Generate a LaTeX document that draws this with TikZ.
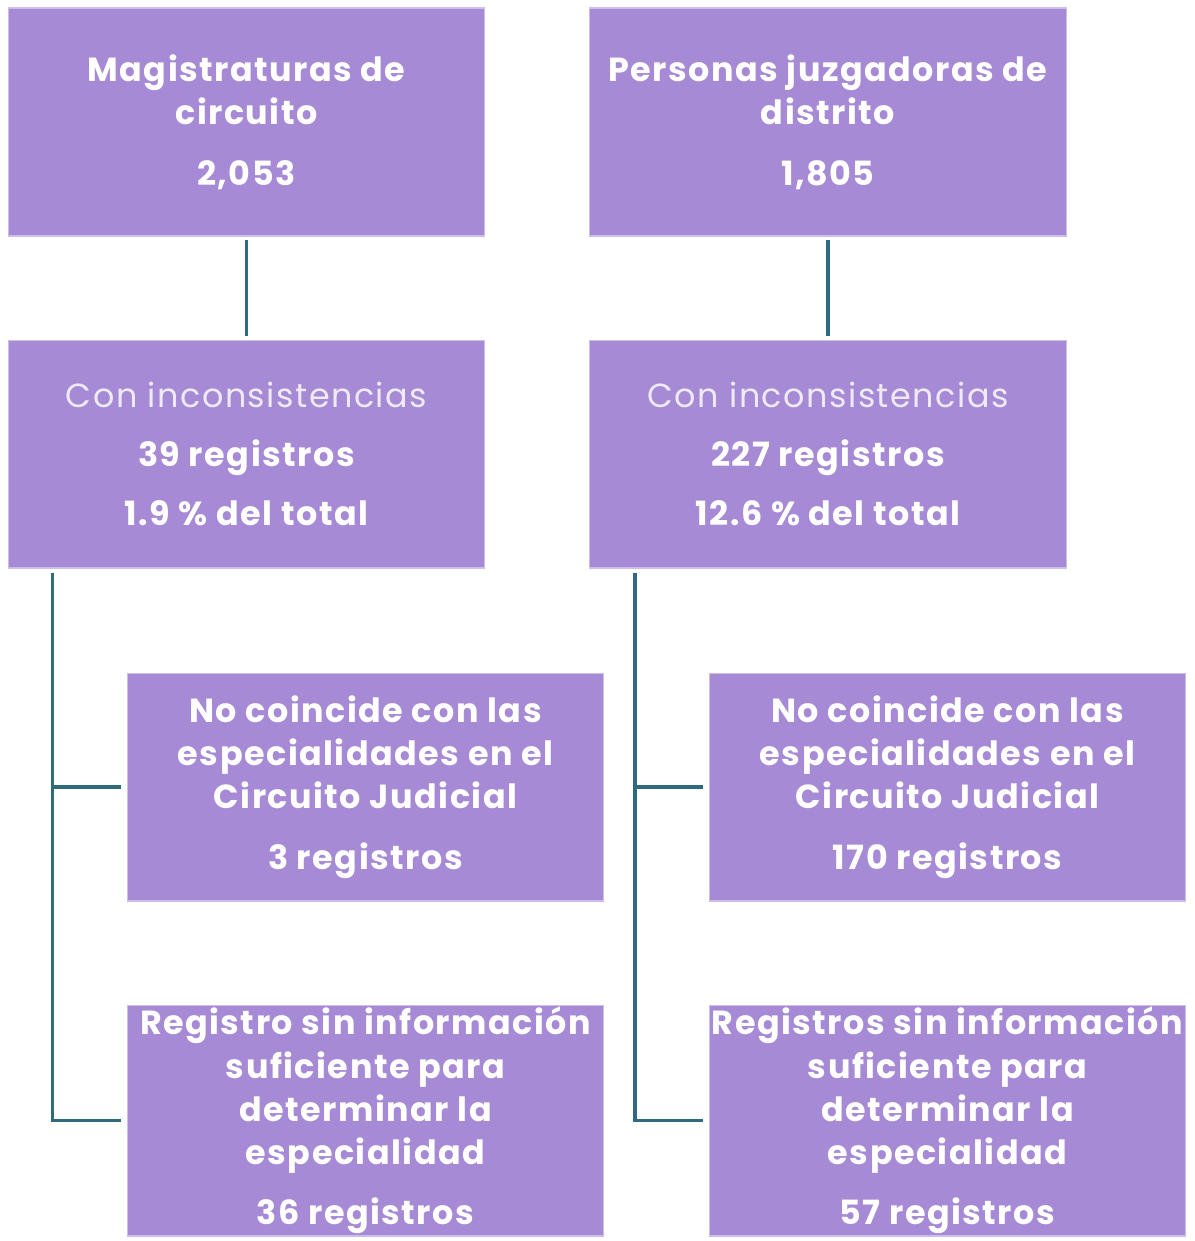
\documentclass[tikz,border=0pt]{standalone}
\usepackage{fontspec}
\setmainfont{Poppins}[LetterSpace=4.5]
\usepackage{xcolor}
\usetikzlibrary{positioning}
\definecolor{lila}{HTML}{A68AD5}
\definecolor{lilaborde}{HTML}{CDBDEC}
\definecolor{azulverde}{HTML}{2E6B7E}
\definecolor{tenue}{HTML}{EFEAF8}
\tikzset{
  caja/.style={fill=lila, draw=lilaborde, line width=0.6pt, minimum width=9.54cm,
    minimum height=4.56cm, inner sep=0pt, align=center, text=white,
    font=\fontsize{19}{24.5}\selectfont\bfseries},
  enlace/.style={draw=azulverde, line width=2pt}
}

\begin{document}
\begin{tikzpicture}[x=0.02cm, y=-0.02cm]
\useasboundingbox (0,0) rectangle (1194,1241);
% cajas superiores
\node[caja] (magis) at (246.5,122) {Magistraturas de\\circuito\\[10pt]2,053};
\node[caja] (jueces) at (828,122) {Personas juzgadoras de\\distrito\\[10pt]1,805};
% inconsistencias
\node[caja] (incL) at (246.5,454) {{\mdseries\color{tenue}Con inconsistencias}\\[9pt]39 registros\\[9pt]1.9 \% del total};
\node[caja] (incR) at (828,454) {{\mdseries\color{tenue}Con inconsistencias}\\[9pt]227 registros\\[9pt]12.6 \% del total};
% detalle
\node[caja] (coincL) at (365.5,787) {No coincide con las\\especialidades en el\\Circuito Judicial\\[10pt]3 registros};
\node[caja, minimum height=4.62cm] (sininfL) at (365.5,1120.5) {Registro sin información\\suficiente para\\determinar la\\especialidad\\[10pt]36 registros};
\node[caja] (coincR) at (947.5,787) {No coincide con las\\especialidades en el\\Circuito Judicial\\[10pt]170 registros};
\node[caja, minimum height=4.62cm] (sininfR) at (947.5,1120.5) {Registros sin información\\suficiente para\\determinar la\\especialidad\\[10pt]57 registros};
% conectores
\draw[enlace, shorten <=2pt, shorten >=2pt] (magis) -- (incL);
\draw[enlace, shorten <=2pt, shorten >=2pt] (jueces) -- (incR);
\coordinate (troncoL) at ([shift={(45,4)}]incL.south west);
\coordinate (troncoR) at ([shift={(46,4)}]incR.south west);
\draw[enlace, shorten >=3pt] (troncoL) |- (sininfL.west);
\draw[enlace, shorten >=3pt] (troncoL |- coincL.west) -- (coincL.west);
\draw[enlace, shorten >=3pt] (troncoR) |- (sininfR.west);
\draw[enlace, shorten >=3pt] (troncoR |- coincR.west) -- (coincR.west);
\end{tikzpicture}
\end{document}
